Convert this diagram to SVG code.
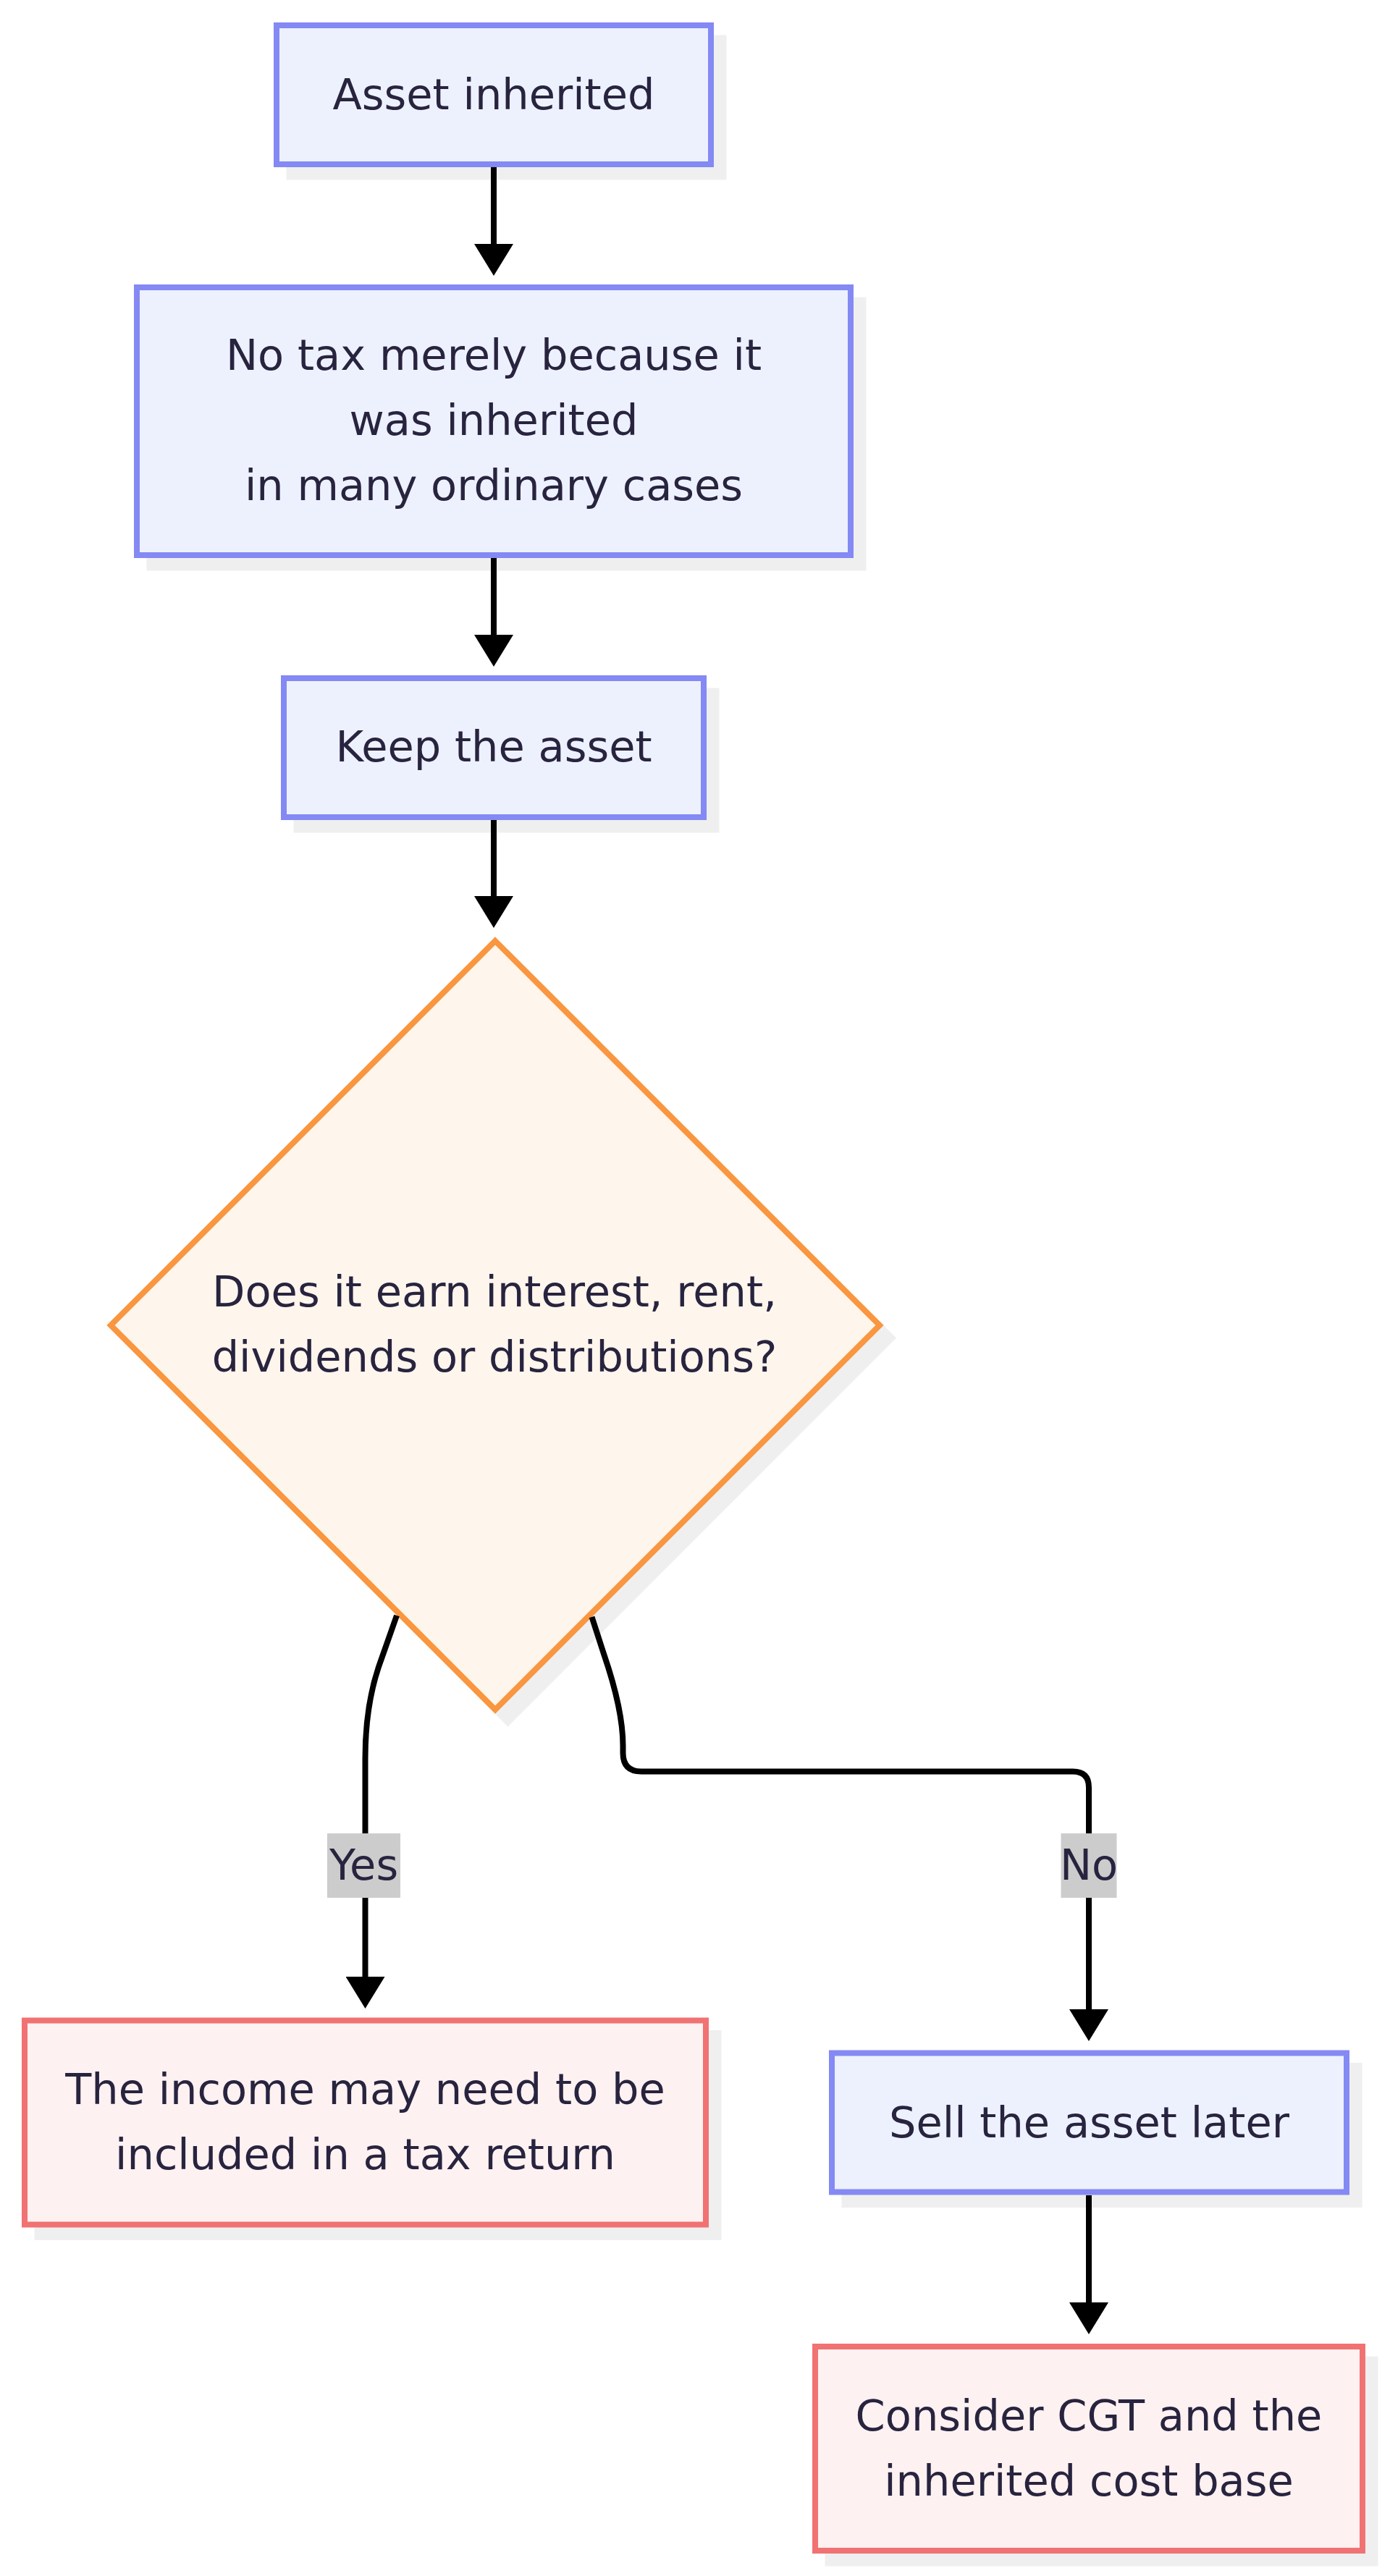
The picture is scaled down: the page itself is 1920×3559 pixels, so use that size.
<svg xmlns="http://www.w3.org/2000/svg" width="1920" height="3559" viewBox="0 0 1920 3559">
<defs>
<style>
.shadow{fill:#EFEFEF;}
.blue{fill:#EDF1FD;stroke:#8489F4;stroke-width:8;}
.red{fill:#FDF1F1;stroke:#F17272;stroke-width:8;}
.dec{fill:#FEF5EC;stroke:#F9963F;stroke-width:8;}
.edge{fill:none;stroke:#000;stroke-width:8;}
.lbl{fill:#CCCCCC;}
text{font-family:"DejaVu Sans","Liberation Sans",sans-serif;font-size:59px;fill:#28243F;text-anchor:middle;}
</style>
<marker id="arrow" markerUnits="userSpaceOnUse" viewBox="0 0 10 10" preserveAspectRatio="none" markerWidth="44" markerHeight="54" refX="0" refY="5" orient="auto">
<path d="M0,0 L10,5 L0,10 z" fill="#000"/>
</marker>
</defs>
<rect width="1920" height="3559" fill="#FFFFFF"/>

<g id="node-asset-inherited">
<rect class="shadow" x="395.5" y="48.5" width="608" height="200"/>
<rect class="blue" x="382" y="35" width="600" height="192"/>
<text x="682" y="151">Asset inherited</text>
</g>

<g id="node-no-tax">
<rect class="shadow" x="202.5" y="410.5" width="994" height="378"/>
<rect class="blue" x="189" y="397" width="986" height="370"/>
<text x="682" y="511">No tax merely because it</text>
<text x="682" y="601">was inherited</text>
<text x="682" y="691">in many ordinary cases</text>
</g>

<g id="node-keep">
<rect class="shadow" x="405.5" y="950.5" width="588" height="200"/>
<rect class="blue" x="392" y="937" width="580" height="192"/>
<text x="682" y="1052">Keep the asset</text>
</g>

<g id="node-decision">
<polygon class="shadow" points="701.5,1311.5 1238,1848.5 701.5,2385.5 165,1848.5"/>
<polygon class="dec" points="684,1300 1215,1831 684,2362 153,1831"/>
<text x="683" y="1805">Does it earn interest, rent,</text>
<text x="683" y="1895">dividends or distributions?</text>
</g>

<g id="node-income">
<rect class="shadow" x="47.5" y="2805" width="949" height="290"/>
<rect class="red" x="34" y="2791.5" width="941" height="282"/>
<text x="504.5" y="2907">The income may need to be</text>
<text x="504.5" y="2997">included in a tax return</text>
</g>

<g id="node-sell">
<rect class="shadow" x="1162.5" y="2850" width="719" height="200"/>
<rect class="blue" x="1149" y="2836.5" width="711" height="192"/>
<text x="1504.5" y="2953">Sell the asset later</text>
</g>

<g id="node-cgt">
<rect class="shadow" x="1139.5" y="3255.5" width="764" height="290"/>
<rect class="red" x="1126" y="3242" width="756" height="282"/>
<text x="1504" y="3358">Consider CGT and the</text>
<text x="1504" y="3448">inherited cost base</text>
</g>

<g id="connectors">
<path class="edge" d="M682 231 L682 337" marker-end="url(#arrow)"/>
<path class="edge" d="M682 771 L682 877" marker-end="url(#arrow)"/>
<path class="edge" d="M682 1133 L682 1238" marker-end="url(#arrow)"/>
<path class="edge" d="M548 2232 L523 2303 Q504.5 2358 504.5 2430 L504.5 2731" marker-end="url(#arrow)"/>
<path class="edge" d="M817.5 2234 L834 2285 Q860.5 2362 860.5 2412 L860.5 2422 Q860.5 2447.5 886 2447.5 L1482 2447.5 Q1504 2447.5 1504 2469.5 L1504 2776" marker-end="url(#arrow)"/>
<path class="edge" d="M1504 3033 L1504 3181" marker-end="url(#arrow)"/>
<g id="label-yes">
<rect class="lbl" x="452" y="2533" width="101" height="89"/>
<text x="502.5" y="2597">Yes</text>
</g>
<g id="label-no">
<rect class="lbl" x="1465.5" y="2533" width="77" height="89"/>
<text x="1504" y="2597">No</text>
</g>
</g>
</svg>
